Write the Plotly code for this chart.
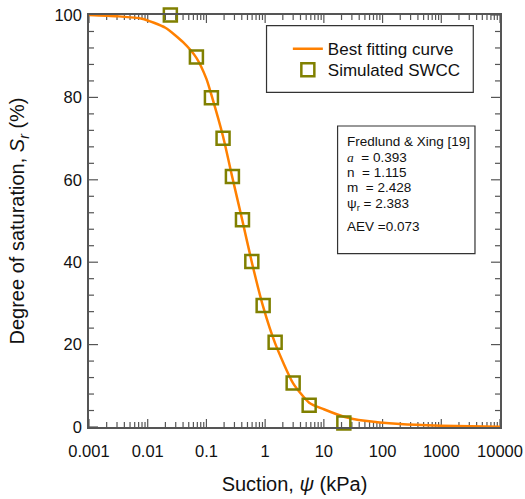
import plotly.graph_objects as go
import numpy as np

# Simulated SWCC points (suction kPa, degree of saturation %)
sim_suction = [0.0243, 0.0675, 0.1216, 0.192, 0.277, 0.411, 0.593, 0.925, 1.48, 3.0, 5.62, 21.9]
sim_sr = [100.0, 89.8, 79.9, 70.1, 60.8, 50.3, 40.2, 29.5, 20.6, 10.7, 5.3, 1.0]

# Best fitting curve
fit_suction = [0.001, 0.003, 0.008, 0.02, 0.04, 0.0675, 0.1, 0.1216, 0.192, 0.277, 0.411,
               0.593, 0.925, 1.48, 3.0, 5.62, 10, 22, 50, 200, 1000, 10000]
fit_sr = [100.0, 99.7, 99.1, 96.9, 93.4, 89.6, 84.5, 80.6, 70.5, 60.5, 50.0,
          40.0, 29.2, 20.3, 10.6, 5.9, 4.3, 2.5, 1.5, 0.7, 0.3, 0.05]

x_tickvals = [0.001, 0.01, 0.1, 1, 10, 100, 1000, 10000]
x_ticktext = ["0.001", "0.01", "0.1", "1", "10", "100", "1000", "10000"]
y_tickvals = [0, 20, 40, 60, 80, 100]

param_lines = ["Fredlund & Xing [19]",
               "<i><span style='font-family:Liberation Serif'>a</span></i>  = 0.393",
               "n  = 1.115",
               "m  = 2.428",
               "ψ<sub>r</sub> = 2.383",
               "AEV =0.073"]
param_y_px = [141, 157, 172, 187.5, 204, 226]

FONT = "Arial, Liberation Sans, sans-serif"
AX = "#555555"

X_MIN_VAL, X_MAX_VAL = x_tickvals[0], x_tickvals[-1]
Y_MIN_VAL, Y_MAX_VAL = y_tickvals[0], y_tickvals[-1]

minor_x = [k * 10.0 ** d for d in range(-3, 4) for k in range(2, 10)]
minor_y = [v for v in range(0, 101, 4) if v % 20 != 0]

fig = go.Figure()

# Inward tick marks on all four frame edges: line markers centred on the frame,
# half of each clipped away by the plot area so only the inner half shows.
def tick_size(visible_len):
    return visible_len / 0.7

def add_ticks(xs, ys, symbol, length):
    fig.add_trace(go.Scatter(x=xs, y=ys, mode="markers", showlegend=False, hoverinfo="skip",
                             cliponaxis=True,
                             marker=dict(symbol=symbol, size=tick_size(length), color=AX,
                                         line=dict(color=AX, width=1.2))))

for yedge in (Y_MIN_VAL, Y_MAX_VAL):
    add_ticks(x_tickvals, [yedge] * len(x_tickvals), "line-ns", 8)
    add_ticks(minor_x, [yedge] * len(minor_x), "line-ns", 5)
for xedge in (X_MIN_VAL, X_MAX_VAL):
    add_ticks([xedge] * len(y_tickvals), y_tickvals, "line-ew", 9)
    add_ticks([xedge] * len(minor_y), minor_y, "line-ew", 5)

fig.add_trace(go.Scatter(x=fit_suction, y=fit_sr, mode="lines", name="Best fitting curve",
                         legend="legend",
                         line=dict(color="#ff8000", width=2.5, shape="spline", smoothing=0.6)))
fig.add_trace(go.Scatter(x=sim_suction, y=sim_sr, mode="markers", name="Simulated SWCC",
                         legend="legend2", cliponaxis=False,
                         marker=dict(symbol="square-open", size=13, color="#808000",
                                     line=dict(color="#808000", width=2.5))))

L, R, T, B = 89.3, 25, 14.7, 72.3
W, H = 525, 499
pw, ph = W - L - R, H - T - B

def px_x(x):
    return (x - L) / pw

def px_y(y):
    return (H - B - y) / ph

fig.update_layout(template="none")
fig.update_layout(
    width=W, height=H,
    margin=dict(l=L, r=R, t=T, b=B, autoexpand=False),
    paper_bgcolor="white", plot_bgcolor="white",
    font=dict(family=FONT, color="#111111"),
    showlegend=True,
    legend=dict(x=px_x(288), y=px_y(49), xanchor="left", yanchor="middle",
                bgcolor="rgba(0,0,0,0)", borderwidth=0, font=dict(size=17, family=FONT)),
    legend2=dict(x=px_x(288), y=px_y(70), xanchor="left", yanchor="middle",
                 bgcolor="rgba(0,0,0,0)", borderwidth=0, font=dict(size=17, family=FONT)),
    xaxis=dict(type="log", range=[np.log10(X_MIN_VAL), np.log10(X_MAX_VAL)], autorange=False,
               tickmode="array", tickvals=x_tickvals, ticktext=x_ticktext,
               ticks="outside", ticklen=8, tickcolor="rgba(0,0,0,0)",
               showline=True, linecolor=AX, linewidth=1.5, mirror=True,
               showgrid=False, zeroline=False, automargin=False,
               tickfont=dict(size=16.5, family=FONT),
               title=dict(text="Suction, <i>ψ</i> (kPa)", font=dict(size=20, family=FONT),
                          standoff=18)),
    yaxis=dict(range=[Y_MIN_VAL, Y_MAX_VAL], autorange=False,
               tickmode="array", tickvals=y_tickvals, ticks="",
               showline=True, linecolor=AX, linewidth=1.5, mirror=True,
               showgrid=False, zeroline=False, automargin=False,
               tickfont=dict(size=16.5, family=FONT), ticklabelstandoff=2,
               title=dict(text="Degree of saturation, <i>S<sub>r</sub></i> (%)",
                          font=dict(size=20, family=FONT), standoff=24)),
)

# legend frame and parameter box frame
fig.add_shape(type="rect", xref="paper", yref="paper",
              x0=px_x(266.7), x1=px_x(473.3), y0=px_y(92), y1=px_y(25.3),
              line=dict(color="#333333", width=1.2), fillcolor="rgba(0,0,0,0)")
fig.add_shape(type="rect", xref="paper", yref="paper",
              x0=px_x(337.7), x1=px_x(475), y0=px_y(253.3), y1=px_y(125.7),
              line=dict(color="#333333", width=1.2), fillcolor="rgba(0,0,0,0)")

for txt, yp in zip(param_lines, param_y_px):
    fig.add_annotation(xref="paper", yref="paper", x=px_x(345.5), y=px_y(yp),
                       xanchor="left", yanchor="middle", text=txt, showarrow=False,
                       font=dict(size=13.5, family=FONT, color="#111111"))

fig.write_html("out.html")
